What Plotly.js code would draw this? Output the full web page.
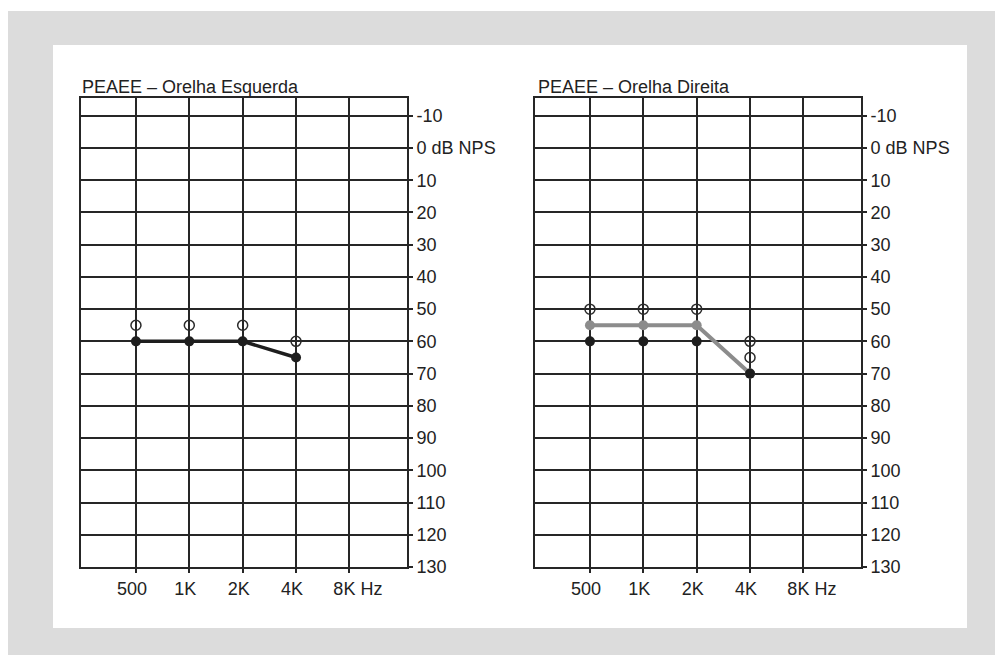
<!DOCTYPE html>
<html>
<head>
<meta charset="utf-8">
<script src="https://cdn.plot.ly/plotly-3.0.1.min.js"></script>
<style>
html,body{margin:0;padding:0;background:#ffffff;}
#chart{width:995px;height:655px;}
</style>
</head>
<body>
<div id="chart"></div>
<script>
// ---- data ----
const freqs = ['500', '1K', '2K', '4K', '8K'];
const freqLabels = ['500', '1K', '2K', '4K', '\u00a0\u00a0\u00a0\u00a0\u00a08K Hz'];
const dbVals = [-10, 0, 10, 20, 30, 40, 50, 60, 70, 80, 90, 100, 110, 120, 130];
const dbLabels = ['-10', '0 dB NPS', '10', '20', '30', '40', '50', '60', '70', '80', '90', '100', '110', '120', '130'];

const leftTitle = 'PEAEE \u2013 Orelha Esquerda';
const rightTitle = 'PEAEE \u2013 Orelha Direita';

// Orelha Esquerda
const leftLineX = ['500', '1K', '2K', '4K'];
const leftLineY = [60, 60, 60, 65];
const leftOpenX = ['500', '1K', '2K', '4K'];
const leftOpenY = [55, 55, 55, 60];

// Orelha Direita
const rightGrayX = ['500', '1K', '2K', '4K'];
const rightGrayY = [55, 55, 55, 70];
const rightDarkX = ['500', '1K', '2K', '4K'];
const rightDarkY = [60, 60, 60, 70];
const rightOpenX = ['500', '1K', '2K', '4K', '4K'];
const rightOpenY = [50, 50, 50, 60, 65];

// ---- style ----
const W = 995, H = 655;
const FONT = 'Liberation Sans, Arial, sans-serif';
const INK = '#222222';
const GRID = '#262626';
const GW = 2;

function xAxis(domain, anchor) {
  return {
    domain: domain, anchor: anchor, type: 'category',
    categoryorder: 'array', categoryarray: freqs,
    range: [-1.03, 5.08],
    tickmode: 'array', tickvals: freqs, ticktext: freqLabels,
    showgrid: true, gridcolor: GRID, gridwidth: GW,
    showline: true, linecolor: GRID, linewidth: GW, mirror: true,
    ticks: 'outside', ticklen: 4, tickwidth: GW, tickcolor: GRID,
    ticklabelshift: -4,
    zeroline: false, fixedrange: true,
    tickfont: {family: FONT, size: 18, color: INK}
  };
}
function yAxis(anchor) {
  return {
    domain: [1 - 567 / H, 1 - 98 / H], anchor: anchor, side: 'right',
    range: [130, -15.5],
    tickmode: 'array', tickvals: dbVals, ticktext: dbLabels,
    showgrid: true, gridcolor: GRID, gridwidth: GW,
    showline: true, linecolor: GRID, linewidth: GW, mirror: true,
    ticks: 'outside', ticklen: 4, tickwidth: GW, tickcolor: GRID,
    zeroline: false, fixedrange: true,
    tickfont: {family: FONT, size: 18, color: INK}
  };
}

const darkMarker = {symbol: 'circle', size: 10, color: '#1e1e1e'};
const openMarker = {symbol: 'circle-open', size: 10, color: '#2a2a2a', line: {width: 1.5, color: '#2a2a2a'}};

const traces = [
  // left
  {x: leftLineX, y: leftLineY, xaxis: 'x', yaxis: 'y', mode: 'lines+markers',
   line: {color: '#1e1e1e', width: 3.5}, marker: darkMarker, hoverinfo: 'x+y'},
  {x: leftOpenX, y: leftOpenY, xaxis: 'x', yaxis: 'y', mode: 'markers',
   marker: openMarker, hoverinfo: 'x+y'},
  // right
  {x: rightGrayX, y: rightGrayY, xaxis: 'x2', yaxis: 'y2', mode: 'lines+markers',
   line: {color: '#8c8c8c', width: 4}, marker: {symbol: 'circle', size: 10, color: '#8c8c8c'}, hoverinfo: 'x+y'},
  {x: rightDarkX, y: rightDarkY, xaxis: 'x2', yaxis: 'y2', mode: 'markers',
   marker: darkMarker, hoverinfo: 'x+y'},
  {x: rightOpenX, y: rightOpenY, xaxis: 'x2', yaxis: 'y2', mode: 'markers',
   marker: openMarker, hoverinfo: 'x+y'}
];

const layout = {
  width: W, height: H,
  margin: {l: 0, r: 0, t: 0, b: 0},
  paper_bgcolor: '#ffffff', plot_bgcolor: '#ffffff',
  showlegend: false,
  xaxis: xAxis([81 / W, 407 / W], 'y'),
  yaxis: yAxis('x'),
  xaxis2: xAxis([535 / W, 861 / W], 'y2'),
  yaxis2: yAxis('x2'),
  shapes: [
    {type: 'rect', xref: 'paper', yref: 'paper', x0: 8 / W, x1: 1, y0: 0, y1: 1 - 11 / H,
     fillcolor: '#dcdcdc', line: {width: 0}, layer: 'below'},
    {type: 'rect', xref: 'paper', yref: 'paper', x0: 53 / W, x1: 967 / W, y0: 1 - 628 / H, y1: 1 - 45 / H,
     fillcolor: '#ffffff', line: {width: 0}, layer: 'below'}
  ],
  annotations: [
    {text: leftTitle, xref: 'paper', yref: 'paper', x: 80 / W, y: 1 - 87 / H,
     xanchor: 'left', yanchor: 'middle', showarrow: false,
     font: {family: FONT, size: 18, color: INK}},
    {text: rightTitle, xref: 'paper', yref: 'paper', x: 536 / W, y: 1 - 87 / H,
     xanchor: 'left', yanchor: 'middle', showarrow: false,
     font: {family: FONT, size: 18, color: INK}}
  ]
};

Plotly.newPlot('chart', traces, layout, {displayModeBar: false, staticPlot: true});
</script>
</body>
</html>
